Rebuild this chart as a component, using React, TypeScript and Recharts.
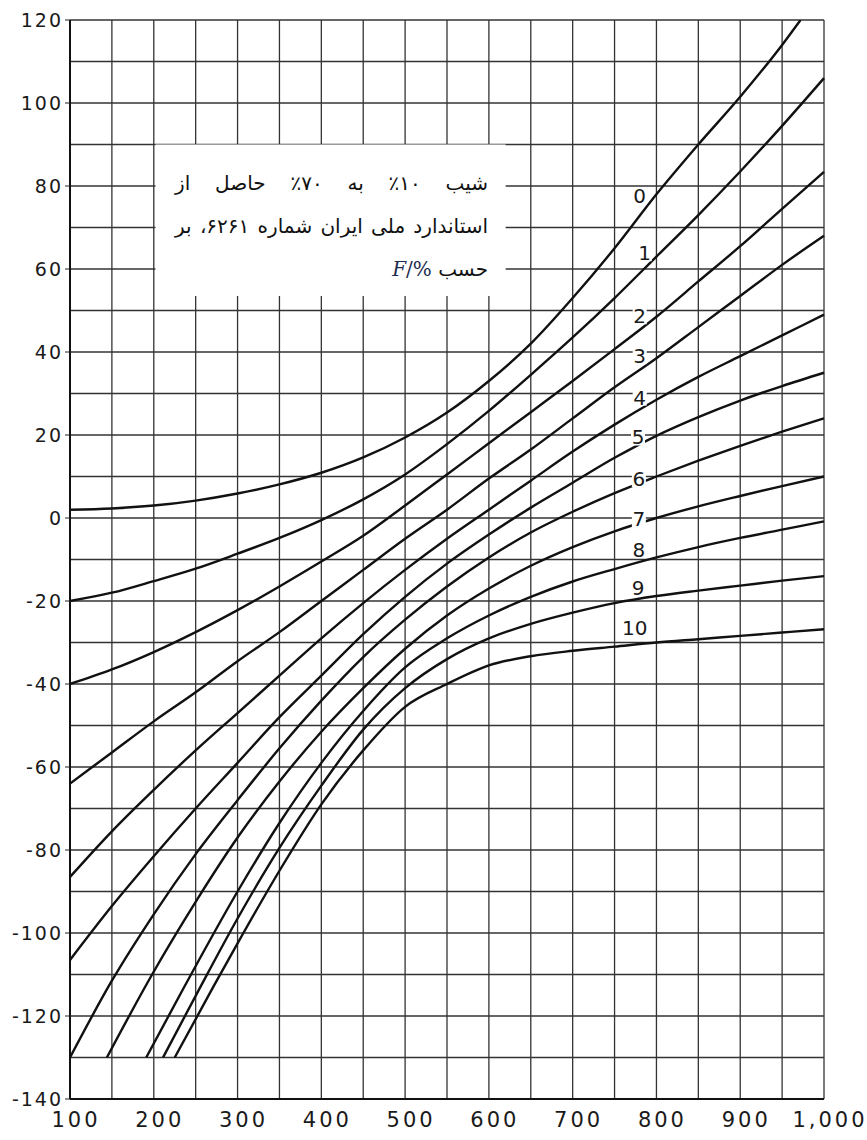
import React from 'react';
import { LineChart, Line, XAxis, YAxis, CartesianGrid, ReferenceArea, ReferenceDot } from 'recharts';

type Pt = [number, number];

const xTicks = [100, 200, 300, 400, 500, 600, 700, 800, 900, 1000];
const yTicks = [-140, -120, -100, -80, -60, -40, -20, 0, 20, 40, 60, 80, 100, 120];
const gridX = [100, 150, 200, 250, 300, 350, 400, 450, 500, 550, 600, 650, 700, 750, 800, 850, 900, 950, 1000];
const gridY = [-140, -130, -120, -110, -100, -90, -80, -70, -60, -50, -40, -30, -20, -10, 0, 10, 20, 30, 40, 50, 60, 70, 80, 90, 100, 110, 120];

// curves, one list of [x, y] per curve number
const curve0: Pt[] = [[100, 2], [150, 2.3], [200, 3], [250, 4.2], [300, 5.9], [350, 8.1], [400, 10.9], [450, 14.6], [500, 19.4], [550, 25.4], [600, 33], [650, 42], [700, 53], [750, 65], [800, 78], [850, 90], [900, 101.5], [950, 114], [972, 120]];
const curve1: Pt[] = [[100, -20], [150, -18], [200, -15.2], [250, -12.2], [300, -8.6], [350, -4.8], [400, -0.5], [450, 4.5], [500, 10.5], [550, 17.8], [600, 25.8], [650, 34.5], [700, 43.5], [750, 53], [800, 63], [850, 73], [900, 83.5], [950, 94.5], [1000, 106]];
const curve2: Pt[] = [[100, -40], [150, -36.5], [200, -32.3], [250, -27.5], [300, -22.2], [350, -16.5], [400, -10.5], [450, -4.3], [500, 3], [550, 10.5], [600, 18], [650, 25.5], [700, 33], [750, 40.7], [800, 48.5], [850, 57], [900, 65.5], [950, 74.5], [1000, 83.4]];
const curve3: Pt[] = [[100, -64], [150, -56.5], [200, -49], [250, -42], [300, -34.5], [350, -27.5], [400, -20], [450, -12.5], [500, -5], [550, 2], [600, 9.5], [650, 16.5], [700, 24], [750, 31.5], [800, 38.5], [850, 46], [900, 53.5], [950, 61], [1000, 68]];
const curve4: Pt[] = [[100, -86.5], [150, -75.5], [200, -65.5], [250, -56], [300, -47], [350, -38], [400, -29], [450, -20.5], [500, -12.5], [550, -5], [600, 2], [650, 9], [700, 16], [750, 22.5], [800, 28.5], [850, 34], [900, 39], [950, 44], [1000, 49]];
const curve5: Pt[] = [[100, -106.5], [150, -93.5], [200, -81.5], [250, -70], [300, -59], [350, -48], [400, -38], [450, -28], [500, -19], [550, -11], [600, -4], [650, 2.5], [700, 8.5], [750, 14.5], [800, 19.8], [850, 24.3], [900, 28.3], [950, 31.8], [1000, 35]];
const curve6: Pt[] = [[100, -130], [150, -111.5], [200, -95.5], [250, -81], [300, -68], [350, -55.5], [400, -44], [450, -33.5], [500, -24.5], [550, -16.5], [600, -9.5], [650, -3.5], [700, 1.5], [750, 6], [800, 10], [850, 13.8], [900, 17.4], [950, 20.8], [1000, 24]];
const curve7: Pt[] = [[144, -130], [198, -110], [250, -92.5], [300, -77], [350, -63.5], [400, -51.5], [450, -41], [500, -31.5], [550, -23.5], [600, -17], [650, -11.5], [700, -7], [750, -3.2], [800, 0], [850, 2.8], [900, 5.3], [950, 7.7], [1000, 10]];
const curve8: Pt[] = [[191, -130], [235, -113.5], [300, -90], [350, -73.5], [400, -59], [450, -46.5], [500, -36], [550, -29], [600, -23.5], [650, -19], [700, -15.3], [750, -12.3], [800, -9.5], [850, -7], [900, -4.8], [950, -2.8], [1000, -0.8]];
const curve9: Pt[] = [[211, -130], [253, -114], [300, -96.5], [350, -79.5], [400, -64.5], [450, -51], [500, -41], [550, -34], [600, -29], [650, -25.5], [700, -22.8], [750, -20.5], [800, -18.8], [850, -17.5], [900, -16.3], [950, -15.1], [1000, -14]];
const curve10: Pt[] = [[225, -130], [271, -113], [300, -102.5], [350, -85], [400, -69], [450, -56], [500, -45.5], [550, -40], [600, -35.5], [650, -33.3], [700, -32], [750, -31], [800, -30], [850, -29.2], [900, -28.4], [950, -27.6], [1000, -26.8]];

const curves = [curve0, curve1, curve2, curve3, curve4, curve5, curve6, curve7, curve8, curve9, curve10];
const curveNames = ['0', '1', '2', '3', '4', '5', '6', '7', '8', '9', '10'];
// where each curve number is printed (data coords)
const labelX = [780, 786, 780, 780, 780, 778, 779, 779, 779, 778, 774];
const labelY = [77.5, 63.8, 48.6, 39, 29, 19.4, 9.4, -0.3, -7.6, -16.8, -26.4];

const toRows = (pts: Pt[]) => pts.map(([x, y]) => ({ x, y }));

const tickFont = { fontFamily: 'DejaVu Sans', fill: '#1a1a1a' };

const CurveLabel = (text: string) => (p: any) => {
  const w = text.length * 12 + 2;
  return (
    <g>
      <rect x={p.cx - w / 2} y={p.cy - 8} width={w} height={16} fill="#fff" />
      <text x={p.cx} y={p.cy + 7} textAnchor="middle" fontSize={20} fontFamily="DejaVu Sans" fill="#1a1a1a">
        {text}
      </text>
    </g>
  );
};

export default function App() {
  return (
    <div style={{ position: 'absolute', left: 0, top: 0, width: 867, height: 1140, background: '#fff' }}>
      <LineChart width={867} height={1140} margin={{ top: 20, right: 43, left: 0, bottom: 0 }}>
        <CartesianGrid
          stroke="#333"
          strokeWidth={1.3}
          horizontalValues={gridY}
          verticalValues={gridX}
        />
        <XAxis
          dataKey="x"
          type="number"
          domain={[100, 1000]}
          ticks={xTicks}
          allowDuplicatedCategory={false}
          height={41}
          tickLine={false}
          tickMargin={7}
          axisLine={{ stroke: '#111', strokeWidth: 2 }}
          tick={{ ...tickFont, fontSize: 21, letterSpacing: 3, dx: 6 }}
          tickFormatter={(v: number) => (v === 1000 ? '1,000' : String(v))}
        />
        <YAxis
          type="number"
          domain={[-140, 120]}
          ticks={yTicks}
          allowDataOverflow
          width={70}
          tickSize={5}
          tickMargin={2}
          tickLine={{ stroke: '#222' }}
          axisLine={{ stroke: '#111', strokeWidth: 2 }}
          tick={{ ...tickFont, fontSize: 19, letterSpacing: 2 }}
        />
        <ReferenceArea x1={202} x2={620} y1={53.5} y2={90} fill="#fff" fillOpacity={1} stroke="none" />
        {curves.map((c, i) => (
          <Line
            key={curveNames[i]}
            data={toRows(c)}
            dataKey="y"
            type="monotone"
            stroke="#111"
            strokeWidth={2.4}
            dot={false}
            activeDot={false}
            isAnimationActive={false}
          />
        ))}
        {curveNames.map((n, i) => (
          <ReferenceDot key={'l' + n} x={labelX[i]} y={labelY[i]} r={0} shape={CurveLabel(n)} />
        ))}
      </LineChart>
      <div
        style={{
          position: 'absolute',
          left: 175,
          top: 162,
          width: 313,
          direction: 'rtl',
          fontFamily: 'DejaVu Sans',
          fontSize: 20,
          lineHeight: '43px',
          color: '#111',
        }}
      >
        <div style={{ textAlign: 'justify', textAlignLast: 'justify' }}>شیب ۱۰٪ به ۷۰٪ حاصل از</div>
        <div style={{ textAlign: 'justify', textAlignLast: 'justify' }}>استاندارد ملی ایران شماره ۶۲۶۱، بر</div>
        <div style={{ textAlign: 'right' }}>
          حسب{' '}
          <span dir="ltr" style={{ fontFamily: 'DejaVu Serif', color: '#1c2d4f' }}>
            <i>F</i>/%
          </span>
        </div>
      </div>
    </div>
  );
}
